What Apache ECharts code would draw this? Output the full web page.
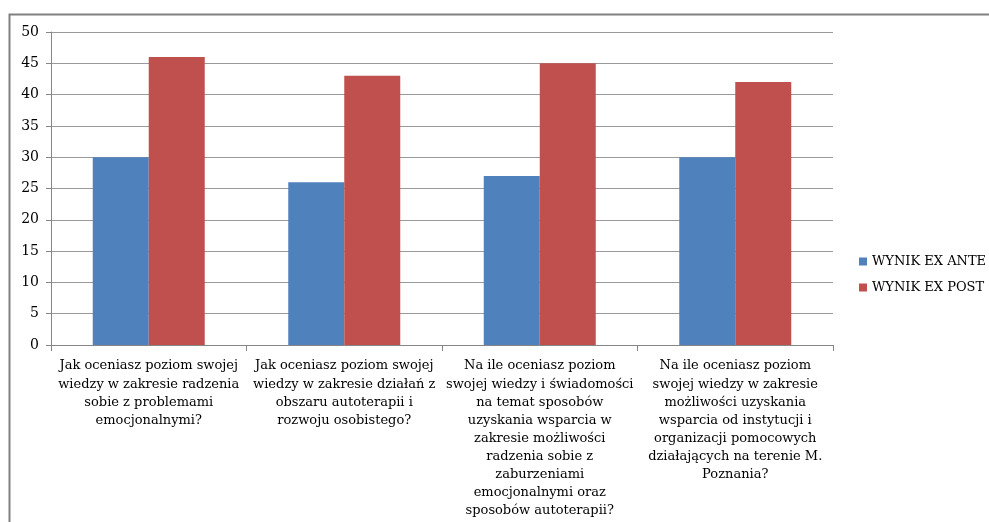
<!DOCTYPE html>
<html>
<head>
<meta charset="utf-8">
<script src="https://cdn.jsdelivr.net/npm/echarts@6/dist/echarts.min.js"></script>
<style>
html,body{margin:0;padding:0;background:#fff;}
#c{width:989px;height:522px;}
</style>
</head>
<body>
<div id="c"></div>
<script>
const categories = [
  "Jak oceniasz poziom swojej\nwiedzy w zakresie radzenia\nsobie z problemami\nemocjonalnymi?",
  "Jak oceniasz poziom swojej\nwiedzy w zakresie działań z\nobszaru autoterapii i\nrozwoju osobistego?",
  "Na ile oceniasz poziom\nswojej wiedzy i świadomości\nna temat sposobów\nuzyskania wsparcia w\nzakresie możliwości\nradzenia sobie z\nzaburzeniami\nemocjonalnymi oraz\nsposobów autoterapii?",
  "Na ile oceniasz poziom\nswojej wiedzy w zakresie\nmożliwości uzyskania\nwsparcia od instytucji i\norganizacji pomocowych\ndziałających na terenie M.\nPoznania?"
];
const seriesNames = ["WYNIK EX ANTE", "WYNIK EX POST"];
const exAnte = [30, 26, 27, 30];
const exPost = [46, 43, 45, 42];

const FONT = "DejaVu Serif";
const chart = echarts.init(document.getElementById('c'));
chart.setOption({
  animation: false,
  backgroundColor: '#fff',
  textStyle: {fontFamily: FONT},
  graphic: [{
    type: 'rect', silent: true,
    shape: {x: 9.5, y: 14.5, width: 1100, height: 700},
    style: {fill: 'none', stroke: '#808080', lineWidth: 2}
  }],
  grid: {left: 51, right: 156, top: 32, bottom: 177, containLabel: false},
  legend: {
    orient: 'vertical',
    left: 854, top: 250,
    itemWidth: 8, itemHeight: 8, itemGap: 13,
    icon: 'rect',
    textStyle: {fontFamily: FONT, fontSize: 13, color: '#000'},
    data: seriesNames
  },
  xAxis: {
    type: 'category',
    data: categories,
    axisLine: {lineStyle: {color: '#868686', width: 1}},
    axisTick: {show: true, length: 6, lineStyle: {color: '#868686'}},
    axisLabel: {interval: 0, fontFamily: FONT, fontSize: 13, lineHeight: 18.1, color: '#000', margin: 12, align: 'center'}
  },
  yAxis: {
    type: 'value',
    min: 0, max: 50, interval: 5,
    axisLine: {show: true, lineStyle: {color: '#868686'}},
    axisTick: {show: true, length: 5, lineStyle: {color: '#868686'}},
    splitLine: {lineStyle: {color: '#9a9a9a'}},
    axisLabel: {fontFamily: FONT, fontSize: 14, color: '#000', margin: 12}
  },
  series: [
    {name: seriesNames[0], type: 'bar', data: exAnte, barWidth: 56, barGap: '0%', itemStyle: {color: '#4F81BD'}},
    {name: seriesNames[1], type: 'bar', data: exPost, barWidth: 56, barGap: '0%', itemStyle: {color: '#C0504D'}}
  ]
});
</script>
</body>
</html>
